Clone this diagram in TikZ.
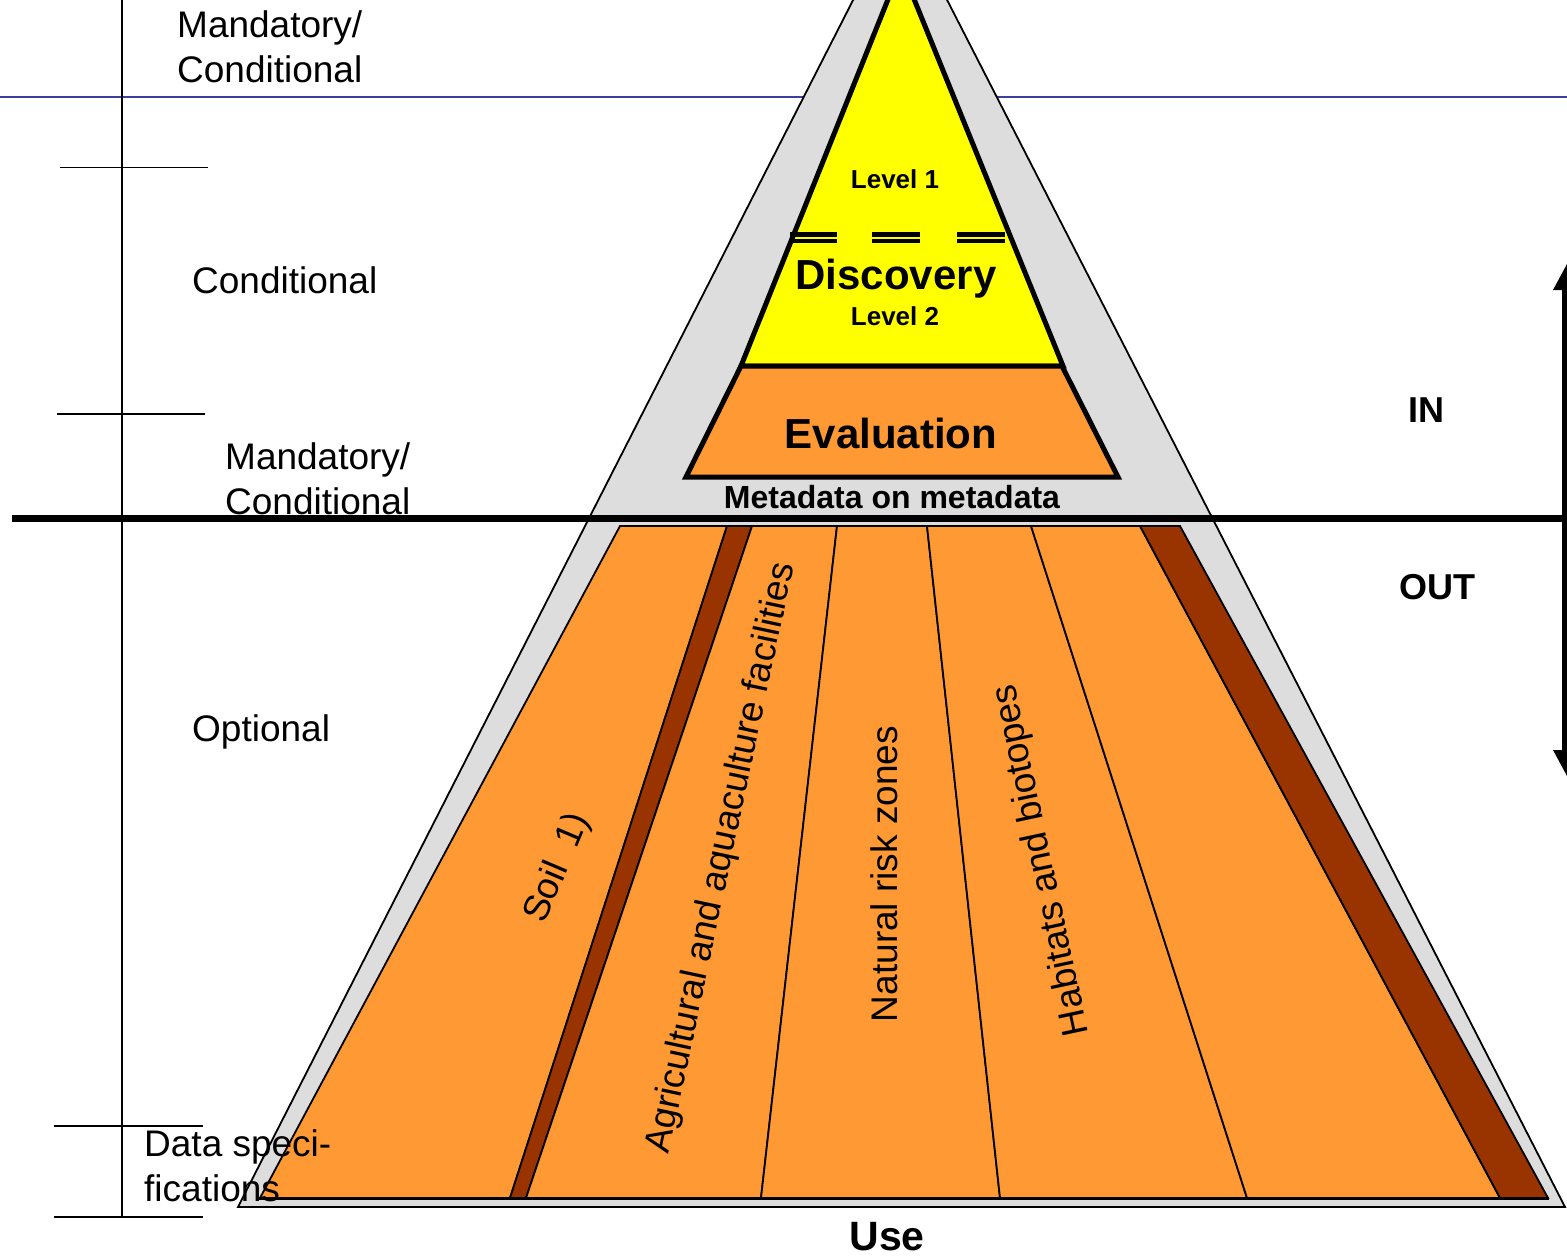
\documentclass[tikz,border=0pt]{standalone}
\usepackage{fontspec}
\setmainfont{Liberation Sans}
\definecolor{myorange}{HTML}{FF9933}
\definecolor{mybrown}{HTML}{993300}
\definecolor{mygray}{HTML}{DDDDDD}
\definecolor{myyellow}{HTML}{FFFF00}
\definecolor{myblue}{HTML}{3F3F9F}
\begin{document}
\begin{tikzpicture}[x=1pt,y=-1pt,
  lbl/.style={inner sep=0pt, anchor=base west, font=\fontsize{37}{45}\selectfont},
  bld/.style={inner sep=0pt, anchor=base},
  rot/.style={inner sep=0pt, anchor=center, font=\fontsize{37}{45}\selectfont},
  strip/.style={fill=myorange, draw=black, line width=1.8pt, line join=miter},
  bstrip/.style={fill=mybrown, draw=black, line width=1.8pt, line join=miter},
  tick/.style={draw=black, line width=1.8pt}]
\useasboundingbox (0,0) rectangle (1567,1256);
% blue line
\draw[myblue, line width=2pt] (0,97) -- (1567,97);
% outer gray triangle
\filldraw[fill=mygray, draw=black, line width=1.8pt, line join=miter] (900,-92) -- (1565,1207) -- (238,1207) -- cycle;
% yellow triangle
\filldraw[fill=myyellow, draw=black, line width=5pt, line join=miter] (901,-33) -- (1063,366) -- (741,366) -- cycle;
% dashed double line
\foreach \a/\b in {790/837, 872/920, 957/1005}{
  \draw[line width=5pt] (\a,234.8) -- (\b,234.8);
  \draw[line width=4pt] (\a,241.2) -- (\b,241.2);
}
% evaluation trapezoid
\filldraw[fill=myorange, draw=black, line width=5pt, line join=miter] (741,366) -- (1062,366) -- (1118,477) -- (686,477) -- cycle;
% bottom strips
\path[strip] (620,526) -- (727,526) -- (510,1198) -- (260,1198) -- cycle;
\path[bstrip] (727,526) -- (752,526) -- (526,1198) -- (510,1198) -- cycle;
\path[strip] (752,526) -- (837,526) -- (761,1198) -- (526,1198) -- cycle;
\path[strip] (837,526) -- (927,526) -- (1000,1198) -- (761,1198) -- cycle;
\path[strip] (927,526) -- (1031,526) -- (1247,1198) -- (1000,1198) -- cycle;
\path[strip] (1031,526) -- (1140,526) -- (1500,1198) -- (1247,1198) -- cycle;
\path[bstrip] (1140,526) -- (1180,526) -- (1548,1198) -- (1500,1198) -- cycle;
\draw[line width=3pt] (259,1198) -- (1549,1198);
% thick horizontal line
\draw[line width=7pt] (12,518.5) -- (1562,518.5);
% right double arrow (partly beyond the page edge)
\fill (1567,264) -- (1581,290) -- (1572,290) -- (1572,750) -- (1581,750) -- (1567,776) -- (1553,750) -- (1562,750) -- (1562,290) -- (1553,290) -- cycle;
% left scale
\path[tick] (122,0) -- (122,1217);
\path[tick] (60,167.5) -- (208,167.5);
\path[tick] (57,414) -- (205,414);
\path[tick] (54,1126) -- (203,1126);
\path[tick] (54,1217) -- (203,1217);
% left labels
\node[lbl] (mc1a) at (177,37) {Mandatory/};
\node[lbl] (mc1b) at (177,82) {Conditional};
\node[lbl] (cond) at (192,293) {Conditional};
\node[lbl] (mc2a) at (225,469) {Mandatory/};
\node[lbl] (mc2b) at (225,514) {Conditional};
\node[lbl] (opt) at (192,741) {Optional};
\node[lbl] (ds1) at (144,1156) {Data speci-};
\node[lbl] (ds2) at (144,1201) {fications};
% pyramid labels
\node[bld, font=\fontsize{26}{30}\selectfont\bfseries] (lv1) at (895,188) {Level 1};
\node[bld, font=\fontsize{42}{48}\selectfont\bfseries] (disc) at (896,289) {Discovery};
\node[bld, font=\fontsize{26}{30}\selectfont\bfseries] (lv2) at (895,325) {Level 2};
\node[bld, font=\fontsize{42}{48}\selectfont\bfseries] (eval) at (891,448) {Evaluation};
\node[bld, font=\fontsize{32}{36}\selectfont\bfseries] (meta) at (892,508) {Metadata on metadata};
\node[bld, font=\fontsize{36}{40}\selectfont\bfseries] (in) at (1426,422) {IN};
\node[bld, font=\fontsize{36}{40}\selectfont\bfseries] (out) at (1437,599) {OUT};
\node[bld, font=\fontsize{41}{46}\selectfont\bfseries] (use) at (887,1250) {Use};
% strip labels
\node[rot, rotate=67] (soil) at (558,868) {Soil\ \ 1)};
\node[rot, rotate=78] (agri) at (722,858) {Agricultural and aquaculture facilities};
\node[rot, rotate=90] (nat) at (884,874) {Natural risk zones};
\node[rot, rotate=102] (hab) at (1042,860) {Habitats and biotopes};
\end{tikzpicture}
\end{document}
